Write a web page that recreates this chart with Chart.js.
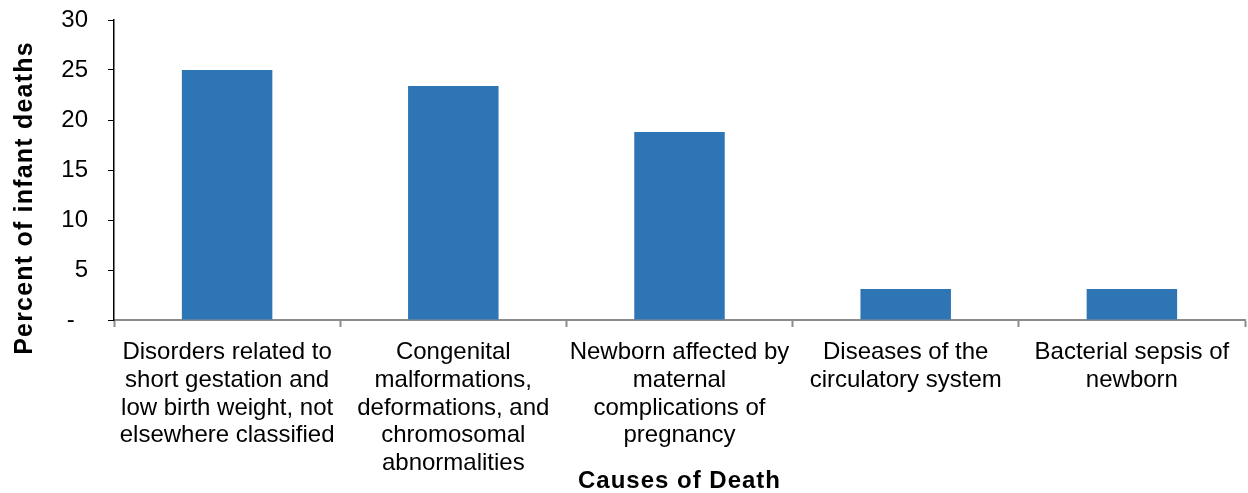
<!DOCTYPE html>
<html>
<head>
<meta charset="utf-8">
<script src="https://cdn.jsdelivr.net/npm/chart.js@4/dist/chart.umd.min.js"></script>
<style>
  body { margin: 0; background: #fff; }
</style>
</head>
<body>
<canvas id="myChart" width="1248" height="493"></canvas>
<script>
// categories (already broken into lines like the original)
const causes = [
  ["Disorders related to", "short gestation and", "low birth weight, not", "elsewhere classified"],
  ["Congenital", "malformations,", "deformations, and", "chromosomal", "abnormalities"],
  ["Newborn affected by", "maternal", "complications of", "pregnancy"],
  ["Diseases of the", "circulatory system"],
  ["Bacterial sepsis of", "newborn"]
];
const percentDeaths = [25.0, 23.4, 18.8, 3.1, 3.1];
const yTicks = [0, 5, 10, 15, 20, 25, 30];
const xTitle = "Causes of Death";
const yTitle = "Percent of infant deaths";

const FONT = "'Liberation Sans', Arial, sans-serif";

// axis titles drawn by hand so they sit where the original has them
const titlesPlugin = {
  id: "axisTitles",
  afterDraw(chart) {
    const ctx = chart.ctx;
    const area = chart.chartArea;
    ctx.save();
    ctx.fillStyle = "#000";
    ctx.textAlign = "center";
    ctx.textBaseline = "middle";

    ctx.font = "bold 24px " + FONT;
    ctx.letterSpacing = "1px";
    ctx.fillText(xTitle, (area.left + area.right) / 2, 481);

    ctx.translate(25, 198);
    ctx.rotate(-Math.PI / 2);
    ctx.font = "bold 25px " + FONT;
    ctx.letterSpacing = "1.2px";
    ctx.fillText(yTitle, 0, 0);
    ctx.restore();
  }
};

const data = {
  labels: causes,
  datasets: [
    {
      label: yTitle,
      backgroundColor: "#2E75B6",
      borderWidth: 0,
      categoryPercentage: 1.0,
      barPercentage: 0.4,
      data: percentDeaths,
    },
  ],
};

const config = {
  type: "bar",
  data: data,
  plugins: [titlesPlugin],
  options: {
    responsive: false,
    animation: false,
    devicePixelRatio: 1,
    layout: { padding: { top: 20, right: 3, bottom: 0, left: 0 } },
    plugins: {
      legend: { display: false },
      tooltip: { enabled: false },
    },
    scales: {
      x: {
        afterFit(scale) {
          scale.height = 173;
          scale.paddingLeft = 0;
          scale.paddingRight = 0;
        },
        grid: {
          offset: true,
          drawOnChartArea: false,
          drawTicks: true,
          tickLength: 7,
          tickWidth: 2,
          tickColor: "#8c8c8c",
        },
        border: { color: "#8c8c8c", width: 2 },
        ticks: {
          color: "#000",
          padding: 12,
          maxRotation: 0,
          autoSkip: false,
          font: { family: FONT, size: 24, lineHeight: 1.15 },
        },
      },
      y: {
        min: 0,
        max: 30,
        afterFit(scale) {
          scale.width = 114;
          scale.paddingTop = 0;
          scale.paddingBottom = 0;
        },
        afterBuildTicks(scale) {
          scale.ticks = yTicks.map((v) => ({ value: v }));
        },
        grid: {
          drawOnChartArea: false,
          drawTicks: true,
          tickLength: 6,
          tickColor: "#000",
        },
        border: { color: "#000", width: 1.5 },
        ticks: {
          color: "#000",
          padding: 20,
          font: { family: FONT, size: 24 },
          callback: (v) => (v === 0 ? "-  " : String(v)),
        },
      },
    },
  },
};

const myChart = new Chart(document.getElementById("myChart"), config);
</script>
</body>
</html>
